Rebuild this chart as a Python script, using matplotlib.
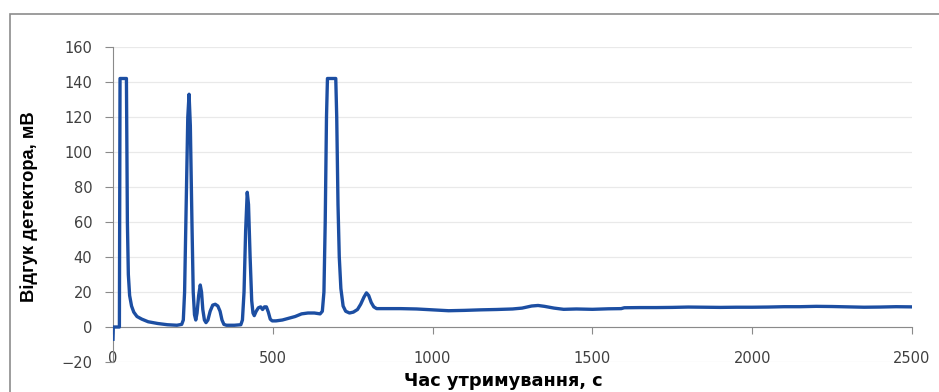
import matplotlib.pyplot as plt
from matplotlib.patches import Rectangle

# chromatogram: retention time (s) and detector response (mV)
time_s = [0, 1, 20, 22, 42, 45, 48, 52, 58, 65, 75, 90, 110, 140, 170, 200,
          215, 220, 224, 229, 234, 238, 242, 247, 251, 255, 259, 263, 268, 273,
          277, 281, 286, 291, 297, 304, 312, 320, 328, 335, 341, 347, 355, 380,
          400, 405, 410, 415, 420, 424, 429, 434, 438, 442, 448, 455, 462, 468,
          474, 480, 486, 492, 498, 510, 530, 550, 570, 590, 610, 630, 648, 655,
          660, 664, 668, 671, 697, 700, 704, 708, 713, 720, 728, 740, 752, 765,
          775, 785, 793, 800, 808, 816, 825, 850, 900, 950, 1000, 1050, 1100,
          1150, 1200, 1250, 1280, 1310, 1330, 1350, 1380, 1410, 1450, 1500,
          1550, 1590, 1600, 1650, 1700, 1750, 1800, 1850, 1900, 1950, 2000,
          2050, 2100, 2150, 2200, 2250, 2300, 2350, 2400, 2450, 2500]
signal_mv = [-7, 0, 0, 142, 142, 60, 30, 18, 12, 8.5, 6, 4.5, 3, 2, 1.3, 1,
             1.5, 4, 20, 70, 120, 133, 115, 60, 20, 7, 4, 8, 18, 24,
             20, 10, 4, 2.5, 4, 9, 12.5, 13, 12, 9, 4, 1.5, 1, 1,
             1.3, 4, 20, 55, 77, 70, 40, 15, 8, 6.5, 9, 11, 11.5, 10,
             11.5, 11.5, 8.5, 4.5, 3.5, 3.5, 4, 5, 6, 7.5, 8, 8, 7.5, 9,
             20, 60, 120, 142, 142, 120, 70, 40, 22, 12, 9, 8, 8.5, 10,
             13, 17, 19.5, 18, 14, 11.5, 10.5, 10.5, 10.5, 10.3, 9.8, 9.3, 9.5,
             9.8, 10, 10.3, 10.8, 12, 12.3, 11.8, 10.8, 10.1, 10.3, 10.1,
             10.4, 10.5, 11, 11.1, 11.1, 11.2, 11.4, 11.3, 11.2, 11.3, 11.3,
             11.4, 11.6, 11.6, 11.8, 11.7, 11.5, 11.3, 11.4, 11.6, 11.5]

x_ticks = [0, 500, 1000, 1500, 2000, 2500]
y_ticks = [-20, 0, 20, 40, 60, 80, 100, 120, 140, 160]

fig = plt.figure(figsize=(9.39, 3.92), dpi=100)
fig.patch.set_facecolor('white')
fig.patches.append(Rectangle((10 / 939, -0.1), 1.0, 1 - 14 / 392 + 0.1,
                             transform=fig.transFigure, fill=False,
                             edgecolor='#8c8c8c', linewidth=1.2))

ax = fig.add_axes([113 / 939, 1 - 362 / 392, 799 / 939, 315 / 392])
ax.set_xlim(0, 2500)
ax.set_ylim(-20, 160)

for y in y_ticks:
    ax.axhline(y, color='#e9e9e9', linewidth=0.9, zorder=0)

ax.plot(time_s, signal_mv, color='#1c4ea2', linewidth=2.4,
        solid_joinstyle='round', zorder=3)

for side in ['top', 'right']:
    ax.spines[side].set_visible(False)
ax.spines['bottom'].set_position(('data', 0))
ax.spines['bottom'].set_color('#8a8a8a')
ax.spines['left'].set_color('#8a8a8a')

ax.set_xticks(x_ticks)
ax.set_yticks(y_ticks)
ax.tick_params(axis='x', direction='out', length=5, color='#8a8a8a',
               pad=12, labelsize=10.5, labelcolor='#404040')
ax.tick_params(axis='y', direction='out', length=6, color='#8a8a8a',
               pad=9, labelsize=10.5, labelcolor='#404040')

fig.text(503 / 939, 1 - 381 / 392, 'Час утримування, с', ha='center',
         va='center', fontsize=12.8, fontweight='bold')
fig.text(29 / 939, 1 - 207 / 392, 'Відгук детектора, мВ', ha='center',
         va='center', rotation=90, fontsize=13.2, fontweight='bold',
         family=['Liberation Sans', 'DejaVu Sans'])

fig.savefig('out.png', dpi=100)
